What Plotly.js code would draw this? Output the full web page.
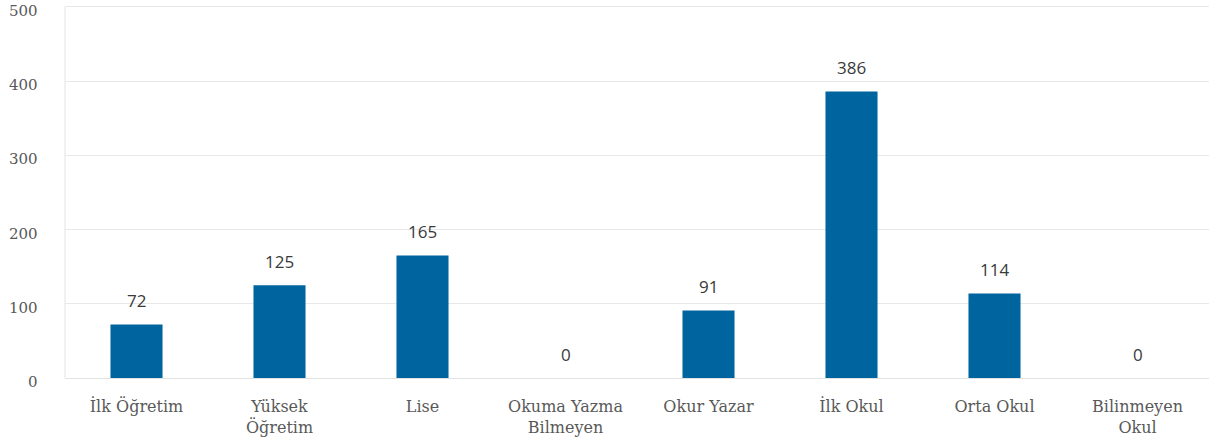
<!DOCTYPE html>
<html>
<head>
<meta charset="utf-8">
<script src="https://cdn.plot.ly/plotly-3.0.1.min.js"></script>
<style>html,body{margin:0;padding:0;background:#fff;}#chart{width:1211px;height:447px;}</style>
</head>
<body>
<div id="chart"></div>
<script>
const categories = ["İlk Öğretim", "Yüksek<br>Öğretim", "Lise", "Okuma Yazma<br>Bilmeyen", "Okur Yazar", "İlk Okul", "Orta Okul", "Bilinmeyen<br>Okul"];
const values = [72, 125, 165, 0, 91, 386, 114, 0];
const yTicks = [0, 100, 200, 300, 400, 500];

const trace = {
  type: 'bar',
  x: categories,
  y: values,
  marker: {color: '#00649e'},
  hoverinfo: 'x+y'
};

const valueLabels = categories.map((c, i) => ({
  x: c, y: values[i], xref: 'x', yref: 'y',
  text: String(values[i]), showarrow: false,
  yshift: 24,
  font: {family: 'Open Sans, sans-serif', size: 17, color: '#3a3a3a'}
}));

const yLabels = yTicks.map(t => ({
  x: 0, y: t, xref: 'paper', yref: 'y',
  text: String(t), showarrow: false,
  xanchor: 'right', yanchor: 'middle',
  xshift: -25, yshift: -4,
  font: {family: 'DejaVu Serif, serif', size: 15, color: '#595959'}
}));

const layout = {
  width: 1211, height: 447,
  margin: {l: 65, r: 2, t: 0, b: 69},
  paper_bgcolor: '#fff', plot_bgcolor: '#fff',
  bargap: 0.636,
  showlegend: false,
  xaxis: {
    tickfont: {family: 'DejaVu Serif, serif', size: 16, color: '#595959'},
    showline: false, showgrid: false, zeroline: false, ticks: '',
    ticklabelstandoff: 17
  },
  yaxis: {
    range: [0, 509.4], tickvals: yTicks, showticklabels: false,
    gridcolor: '#e8e8e8', gridwidth: 1,
    zeroline: true, zerolinecolor: '#e3e3e3', zerolinewidth: 1,
    showline: false, ticks: ''
  },
  shapes: [{type: 'line', xref: 'paper', yref: 'y', x0: 0, x1: 0, y0: 0, y1: yTicks[yTicks.length - 1],
    line: {color: '#e3e3e3', width: 1}}],
  annotations: valueLabels.concat(yLabels)
};

Plotly.newPlot('chart', [trace], layout, {displayModeBar: false, staticPlot: true});
</script>
</body>
</html>
